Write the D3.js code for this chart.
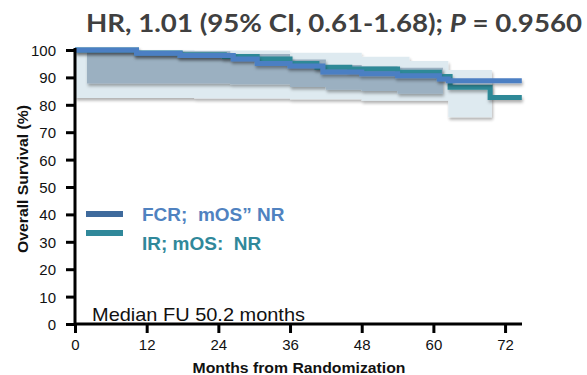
<!DOCTYPE html>
<html>
<head>
<meta charset="utf-8">
<script src="https://cdn.jsdelivr.net/npm/d3@7"></script>
<style>
  html, body { margin: 0; padding: 0; background: #fff; }
  svg { display: block; }
</style>
</head>
<body>
<svg id="chart" width="587" height="375"></svg>
<script>
// Kaplan-Meier step data (months, overall survival %)
const fcrMonths = [0, 10.3, 17.6, 26.5, 30.5, 36, 41.5, 48, 54, 61, 62.5, 74.8];
const fcrOS     = [100, 98.8, 98.0, 96.7, 95.1, 94.2, 92.0, 91.3, 90.6, 89.4, 88.8, 88.8];

const irMonths = [0, 10.3, 17.6, 25, 30.5, 36, 40.5, 46, 54, 61, 62.8, 69.5, 74.8];
const irOS     = [100, 98.9, 98.3, 97.6, 96.7, 95.1, 93.7, 93.1, 91.9, 90.3, 86.4, 82.7, 82.7];

// Confidence bands
const wideBandMonths = [0, 20, 36, 48, 56, 62.5, 69.8];
const wideBandLow    = [82.5, 82.3, 82.0, 81.5, 81.5, 75.5, 75.5];
const wideBandHigh   = [100, 99.8, 99.0, 97.5, 96.0, 92.7, 92.7];

const narrowBandMonths = [2, 26, 36, 42, 48, 54, 61.6];
const narrowBandLow    = [87.8, 87.5, 86.5, 85.5, 85.0, 84.0, 84.0];
const narrowBandHigh   = [99.5, 98.5, 96.5, 94.5, 94.0, 93.5, 93.5];

const xTicks = [0, 12, 24, 36, 48, 60, 72];
const yTicks = [0, 10, 20, 30, 40, 50, 60, 70, 80, 90, 100];

const titleText = "HR, 1.01 (95% CI, 0.61-1.68); ";
const titleP = "P";
const titlePValue = " = 0.9560";
const legendLabels = ["FCR;  mOS\u201D NR", "IR; mOS:  NR"];
const noteText = "Median FU 50.2 months";
const xTitle = "Months from Randomization";
const yTitle = "Overall Survival (%)";

const svg = d3.select("#chart");
const x = d3.scaleLinear().domain([0, 74.5]).range([75, 520]);
const y = d3.scaleLinear().domain([0, 100]).range([324, 50]);

const defs = svg.append("defs");
const shadow = defs.append("filter").attr("id", "shadow")
  .attr("x", "-5%").attr("y", "-20%").attr("width", "110%").attr("height", "160%");
shadow.append("feDropShadow").attr("dx", 1).attr("dy", 2.5)
  .attr("stdDeviation", 1.8).attr("flood-color", "#000").attr("flood-opacity", 0.33);

const zip = (t, a, b) => t.map((m, i) => ({ m, lo: a[i], hi: b ? b[i] : null }));

const bandArea = d3.area().curve(d3.curveStepAfter)
  .x(d => x(d.m)).y0(d => y(d.lo)).y1(d => y(d.hi));
const km = d3.line().curve(d3.curveStepAfter)
  .x(d => x(d.m)).y(d => y(d.lo));

const plot = svg.append("g");

plot.append("path")
  .datum(zip(wideBandMonths, wideBandLow, wideBandHigh))
  .attr("d", bandArea)
  .attr("fill", "#dde9f0")
  .attr("filter", "url(#shadow)")
  .attr("opacity", 0.95);

plot.append("path")
  .datum(zip(narrowBandMonths, narrowBandLow, narrowBandHigh))
  .attr("d", bandArea)
  .attr("fill", "#9bb0c1")
  .attr("filter", "url(#shadow)");

plot.append("path")
  .datum(zip(irMonths, irOS))
  .attr("d", km)
  .attr("fill", "none")
  .attr("stroke", "#2d8997")
  .attr("stroke-width", 5)
  .attr("filter", "url(#shadow)");

plot.append("path")
  .datum(zip(fcrMonths, fcrOS))
  .attr("d", km)
  .attr("fill", "none")
  .attr("stroke", "#4c7fc3")
  .attr("stroke-width", 5)
  .attr("filter", "url(#shadow)");

// Axes
const axisFont = "'Liberation Sans', Arial, sans-serif";

const xAxis = svg.append("g").attr("transform", "translate(0,324)")
  .call(d3.axisBottom(x).tickValues(xTicks).tickSize(9).tickPadding(6).tickSizeOuter(0));
const yAxis = svg.append("g").attr("transform", "translate(75,0)")
  .call(d3.axisLeft(y).tickValues(yTicks).tickSize(9).tickPadding(10).tickSizeOuter(0));

xAxis.select(".domain").attr("d", `M${x(0)},0H522`);
yAxis.select(".domain").attr("d", `M0,${y(0)}V48`);

[xAxis, yAxis].forEach(a => {
  a.selectAll(".domain").attr("stroke", "#000").attr("stroke-width", 3);
  a.selectAll(".tick line").attr("stroke", "#000").attr("stroke-width", 3);
  a.selectAll(".tick text").attr("fill", "#111")
    .style("font-family", axisFont).style("font-size", "15px");
});
yAxis.selectAll(".tick text").attr("dy", "0.36em");

svg.append("text")
  .attr("x", 299).attr("y", 373)
  .attr("text-anchor", "middle")
  .style("font-family", axisFont).style("font-size", "15.5px").style("font-weight", "bold")
  .attr("fill", "#111")
  .attr("textLength", 213).attr("lengthAdjust", "spacingAndGlyphs")
  .text(xTitle);

svg.append("text")
  .attr("transform", "translate(28,179) rotate(-90)")
  .attr("text-anchor", "middle")
  .style("font-family", axisFont).style("font-size", "15.5px").style("font-weight", "bold")
  .attr("fill", "#111")
  .attr("textLength", 148).attr("lengthAdjust", "spacingAndGlyphs")
  .text(yTitle);

// Title
const title = svg.append("text")
  .attr("x", 86).attr("y", 32)
  .style("font-family", "Lato, sans-serif").style("font-size", "25px").style("font-weight", "bold")
  .attr("fill", "#404040")
  .attr("textLength", 496).attr("lengthAdjust", "spacingAndGlyphs");
title.append("tspan").text(titleText);
title.append("tspan").style("font-style", "italic").text(titleP);
title.append("tspan").text(titlePValue);

// Legend
const legendColors = ["#3e6a9c", "#30889a"];
const legendTextColors = ["#5082c0", "#30889a"];
const legendLineY = [214, 233];
const legendTextY = [221, 250];
const legendTextWidth = [150, 132];
legendLabels.forEach((lab, i) => {
  svg.append("line")
    .attr("x1", 86).attr("x2", 123)
    .attr("y1", legendLineY[i]).attr("y2", legendLineY[i])
    .attr("stroke", legendColors[i]).attr("stroke-width", 6);
  svg.append("text")
    .attr("x", 142).attr("y", legendTextY[i])
    .style("font-family", axisFont).style("font-size", "19px").style("font-weight", "bold")
    .style("white-space", "pre")
    .attr("fill", legendTextColors[i])
    .text(lab);
});

svg.append("text")
  .attr("x", 92).attr("y", 321)
  .style("font-family", axisFont).style("font-size", "19px")
  .attr("fill", "#111")
  .attr("textLength", 213).attr("lengthAdjust", "spacingAndGlyphs")
  .text(noteText);
</script>
</body>
</html>
